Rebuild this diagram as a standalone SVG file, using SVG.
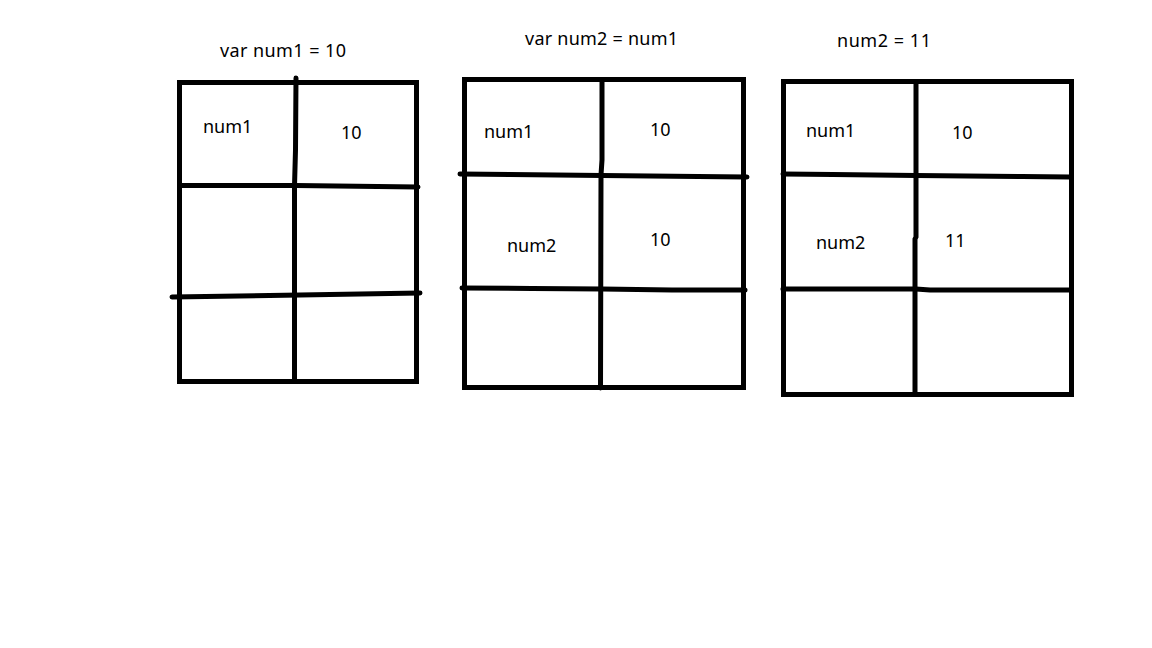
<svg xmlns="http://www.w3.org/2000/svg" width="1152" height="648" viewBox="0 0 1152 648">
<style>
.ln{fill:none;stroke:#000;stroke-width:5;stroke-linecap:round;stroke-linejoin:miter}
.bx{fill:none;stroke:#000;stroke-width:5;stroke-linecap:square}
text{font-family:"Noto Sans","Liberation Sans",sans-serif;font-size:18px;fill:#000}
</style>
<rect width="1152" height="648" fill="#fff"/>
<g id="memory1">
<text x="220" y="57" textLength="126" lengthAdjust="spacing">var num1 = 10</text>
<rect class="bx" x="179.5" y="82.5" width="237" height="299"/>
<polyline class="ln" points="296,78 295.5,150 294.5,186 294.5,380"/>
<polyline class="ln" points="180,185.5 296,185.5 418,187"/>
<polyline class="ln" points="172,297 300,295 420,293"/>
<text x="203" y="133">num1</text>
<text x="341" y="139">10</text>
</g>
<g id="memory2">
<text x="525" y="45" textLength="153" lengthAdjust="spacing">var num2 = num1</text>
<rect class="bx" x="464.5" y="79.5" width="279" height="308"/>
<polyline class="ln" points="602,80 602,160 601,175 600.5,388"/>
<polyline class="ln" points="460,174 510,174.5 602,175.5 698,176.5 747,177"/>
<polyline class="ln" points="462,288 532,288.5 602,289 672,290 745,290"/>
<text x="484" y="138">num1</text>
<text x="650" y="136">10</text>
<text x="507" y="252">num2</text>
<text x="650" y="246">10</text>
</g>
<g id="memory3">
<text x="837" y="47" textLength="94" lengthAdjust="spacing">num2 = 11</text>
<rect class="bx" x="783.5" y="81.5" width="288" height="313"/>
<polyline class="ln" points="916,82 916,237 915,239 915,393"/>
<polyline class="ln" points="783,174 833,174.5 916,175.5 1022,176.5 1070,177"/>
<polyline class="ln" points="783,289 916,289 930,290 1070,290"/>
<text x="806" y="137">num1</text>
<text x="952" y="139">10</text>
<text x="816" y="249">num2</text>
<text x="945" y="247">11</text>
</g>
</svg>
